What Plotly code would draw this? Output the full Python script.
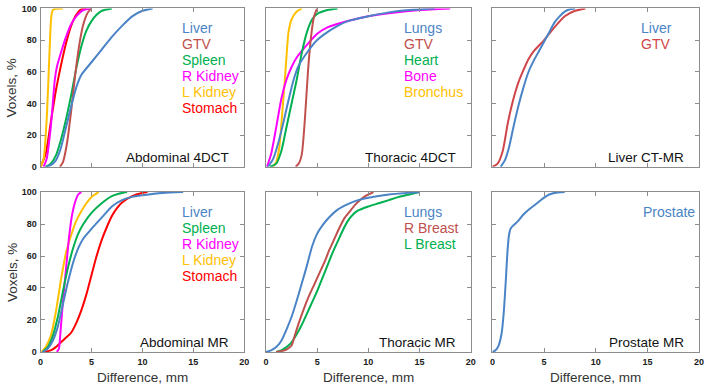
import plotly.graph_objects as go

W, H = 709, 392

# ---------------- data ----------------
# Abdominal 4DCT
a4_liver_x = [0.5, 1, 1.5, 2, 2.5, 3, 3.5, 4, 5, 6, 7, 8, 9, 10, 11]
a4_liver_y = [0, 1, 4, 12, 25, 38, 50, 58, 66, 74, 82, 89, 95, 98.5, 100]
a4_gtv_x = [1.9, 2.2, 2.6, 3.0, 3.4, 3.8, 4.2, 4.6, 5.0]
a4_gtv_y = [0, 3, 15, 35, 58, 77, 90, 97, 100]
a4_spleen_x = [0.5, 1, 1.5, 2, 2.5, 3, 3.5, 4, 4.5, 5, 5.5, 6, 7]
a4_spleen_y = [0, 2, 7, 17, 30, 45, 62, 76, 86, 92, 96, 98.5, 100]
a4_rkid_x = [0.3, 0.6, 1.0, 1.4, 1.6, 2.0, 2.5, 3.0, 3.5, 4.2, 5.0]
a4_rkid_y = [0, 5, 25, 55, 63, 72, 82, 90, 95, 99, 100]
a4_lkid_x = [0.0, 0.3, 0.6, 0.8, 1.0, 1.1, 1.3, 2.2]
a4_lkid_y = [0, 5, 30, 60, 90, 97, 99.5, 100]
a4_stom_x = [0.0, 0.5, 1.0, 1.5, 2.0, 2.5, 3.0, 3.5, 4.0, 4.5]
a4_stom_y = [0, 8, 28, 48, 64, 78, 89, 96, 99.5, 100]

# Thoracic 4DCT
t4_lungs_x = [0.2, 0.7, 1.2, 1.7, 2.2, 2.7, 3.2, 4, 5, 6, 7, 8, 10, 12, 14, 16.5]
t4_lungs_y = [0, 5, 15, 28, 42, 55, 64, 72, 80, 85, 89, 92, 95, 97.5, 99, 100]
t4_gtv_x = [2.9, 3.2, 3.5, 3.8, 4.1, 4.4, 4.7, 5.0]
t4_gtv_y = [0, 2, 8, 30, 60, 82, 95, 100]
t4_heart_x = [0.4, 1, 1.5, 2, 2.5, 3, 3.5, 4, 4.5, 5, 6, 7]
t4_heart_y = [0, 2, 10, 25, 40, 55, 72, 85, 93, 96.5, 99, 100]
t4_bone_x = [0.1, 0.5, 1, 1.5, 2, 2.5, 3, 4, 5, 6, 8, 10, 12, 15, 18]
t4_bone_y = [0, 8, 25, 43, 55, 63, 69, 77, 84, 88, 92, 95, 97, 99, 100]
t4_bron_x = [0.7, 1.0, 1.3, 1.6, 1.9, 2.2, 2.5, 3.0, 3.5]
t4_bron_y = [0, 3, 12, 35, 60, 85, 93, 98, 100]

# Liver CT-MR
lc_liver_x = [0.8, 1.2, 1.6, 2, 2.5, 3, 3.5, 4, 4.5, 5, 5.5, 6, 6.5, 7, 7.5, 8]
lc_liver_y = [0, 4, 12, 24, 38, 50, 60, 67, 73, 79, 85, 91, 95, 98, 99.5, 100]
lc_gtv_x = [0, 0.5, 1, 1.5, 2, 2.5, 3, 3.5, 4, 5, 6, 7, 8, 9]
lc_gtv_y = [0, 2, 10, 28, 42, 53, 61, 68, 73, 80, 88, 95, 98.5, 100]

# Abdominal MR
am_liver_x = [0.2, 0.7, 1.2, 1.7, 2.2, 2.7, 3.2, 3.7, 4.2, 5, 6, 7, 8, 9, 10, 12, 14]
am_liver_y = [0, 2, 7, 16, 30, 44, 56, 65, 71, 77, 84, 91, 95, 97, 98, 99.5, 100]
am_spleen_x = [0.2, 0.7, 1.2, 1.7, 2.2, 2.7, 3.2, 3.7, 4.2, 5, 6, 7, 8, 8.5]
am_spleen_y = [0, 3, 10, 22, 38, 53, 65, 74, 80, 87, 93, 97.5, 99.5, 100]
am_rkid_x = [1.6, 1.8, 1.95, 2.2, 2.5, 2.8, 3.1, 3.4, 3.7, 4.0]
am_rkid_y = [0, 2, 12, 32, 52, 72, 86, 94, 98.5, 100]
am_lkid_x = [0.1, 0.5, 1, 1.5, 2, 2.5, 3, 3.5, 4, 4.5, 5, 5.7]
am_lkid_y = [0, 3, 10, 25, 45, 62, 73, 82, 88, 93, 97, 100]
am_stom_x = [0.3, 1, 1.5, 2, 2.5, 3, 3.5, 4, 4.5, 5, 5.5, 6, 6.5, 7, 7.5, 8, 9, 10, 10.5]
am_stom_y = [0, 1, 3, 6, 9, 12, 18, 26, 36, 48, 60, 70, 78, 85, 90, 93.5, 97.5, 99.5, 100]

# Thoracic MR
tm_lungs_x = [0, 0.5, 1, 1.5, 2, 2.5, 3, 3.5, 4, 4.5, 5, 5.5, 6, 7, 8, 9, 10, 12, 15]
tm_lungs_y = [0, 1, 3, 7, 14, 22, 32, 43, 54, 66, 74, 79, 83, 89, 92.5, 95, 96.5, 98.5, 100]
tm_rbr_x = [1, 1.5, 2, 2.5, 2.8, 3.2, 3.7, 4.2, 4.7, 5.2, 5.7, 6.2, 6.7, 7.2, 7.7, 8.2, 8.7, 9.2, 9.7, 10.5]
tm_rbr_y = [0, 0.5, 1.5, 4, 10, 18, 27, 35, 42, 49, 56, 64, 71, 78, 84, 88, 92, 95, 97.5, 100]
tm_lbr_x = [1, 1.5, 2, 2.5, 3, 3.5, 4, 4.5, 5, 5.5, 6, 6.5, 7, 7.5, 8, 8.5, 9, 10, 11, 12, 13, 14, 15]
tm_lbr_y = [0, 1, 3, 6, 11, 17, 24, 31, 38, 46, 54, 62, 69, 76, 82, 86, 88.5, 91, 93, 95, 97, 98.5, 100]

# Prostate MR
pm_pros_x = [0, 0.3, 0.6, 0.9, 1.1, 1.3, 1.45, 1.6, 1.75, 2, 2.5, 3, 3.5, 4, 4.5, 5, 5.5, 6, 7]
pm_pros_y = [0, 1, 4, 12, 25, 45, 62, 73, 77, 79, 82, 86, 89, 91.5, 94, 96.5, 98.5, 99.5, 100]

panel_titles = ["Abdominal 4DCT", "Thoracic 4DCT", "Liver CT-MR",
                "Abdominal MR", "Thoracic MR", "Prostate MR"]
x_ticks = [0, 5, 10, 15, 20]
y_ticks = [0, 20, 40, 60, 80, 100]

BLUE = "#4a84c6"
BROWN = "#c0504d"
GREEN = "#00b050"
MAGENTA = "#ff00ff"
ORANGE = "#ffc000"
RED = "#ff0000"
RED2 = "#d0454a"

panels = [
    [("Liver", a4_liver_x, a4_liver_y, BLUE), ("GTV", a4_gtv_x, a4_gtv_y, BROWN),
     ("Spleen", a4_spleen_x, a4_spleen_y, GREEN), ("R Kidney", a4_rkid_x, a4_rkid_y, MAGENTA),
     ("L Kidney", a4_lkid_x, a4_lkid_y, ORANGE), ("Stomach", a4_stom_x, a4_stom_y, RED)],
    [("Lungs", t4_lungs_x, t4_lungs_y, BLUE), ("GTV", t4_gtv_x, t4_gtv_y, BROWN),
     ("Heart", t4_heart_x, t4_heart_y, GREEN), ("Bone", t4_bone_x, t4_bone_y, MAGENTA),
     ("Bronchus", t4_bron_x, t4_bron_y, ORANGE)],
    [("Liver", lc_liver_x, lc_liver_y, BLUE), ("GTV", lc_gtv_x, lc_gtv_y, RED2)],
    [("Liver", am_liver_x, am_liver_y, BLUE), ("Spleen", am_spleen_x, am_spleen_y, GREEN),
     ("R Kidney", am_rkid_x, am_rkid_y, MAGENTA), ("L Kidney", am_lkid_x, am_lkid_y, ORANGE),
     ("Stomach", am_stom_x, am_stom_y, RED)],
    [("Lungs", tm_lungs_x, tm_lungs_y, BLUE), ("R Breast", tm_rbr_x, tm_rbr_y, BROWN),
     ("L Breast", tm_lbr_x, tm_lbr_y, GREEN)],
    [("Prostate", pm_pros_x, pm_pros_y, BLUE)],
]

# ---------------- layout geometry (pixels) ----------------
col_px = [(38, 244), (266, 473), (495, 704)]
row_px = [(3.5, 166), (192, 356)]
legend_dx = [141, 138, 148, 141, 138, 150]

FONT = "Liberation Sans, Arial, sans-serif"

def px2x(p):
    return p / W

def px2y(p):
    return 1 - p / H

fig = go.Figure()
layout = dict(width=W, height=H, margin=dict(l=0, r=0, t=0, b=0),
              paper_bgcolor="white", plot_bgcolor="white", showlegend=False,
              font=dict(family=FONT))
annotations = []

for i, series in enumerate(panels):
    r, c = divmod(i, 3)
    n = i + 1
    xa = "xaxis" if n == 1 else f"xaxis{n}"
    ya = "yaxis" if n == 1 else f"yaxis{n}"
    xr = "x" if n == 1 else f"x{n}"
    yr = "y" if n == 1 else f"y{n}"
    x0, x1 = col_px[c]
    y0, y1 = row_px[r]
    common = dict(showline=True, linecolor="#8c8c8c", linewidth=1, mirror="ticks",
                  ticks="inside", ticklen=4, tickcolor="#8c8c8c", showgrid=False,
                  zeroline=False,
                  tickfont=dict(family=FONT, size=9, color="#1a1a1a", weight="bold"))
    layout[xa] = dict(common, domain=[px2x(x0), px2x(x1)], range=[0, 20],
                      tickvals=x_ticks, showticklabels=(r == 1), anchor=yr, ticklabelstandoff=1)
    layout[ya] = dict(common, domain=[px2y(y1), px2y(y0)], range=[0, 100],
                      tickvals=y_ticks, showticklabels=(c == 0), anchor=xr, ticklabelstandoff=1)
    for name, xs, ys, col in reversed(series):
        fig.add_trace(go.Scatter(x=xs, y=ys, mode="lines", xaxis=xr, yaxis=yr,
                                 line=dict(color=col, width=2, shape="spline", smoothing=0.6),
                                 name=name, hoverinfo="skip"))
    for k, (name, xs, ys, col) in enumerate(series):
        annotations.append(dict(x=px2x(x0 + legend_dx[i]), y=px2y(y0 + 20.5 + 16.4 * k),
                                xref="paper", yref="paper", text=name, showarrow=False,
                                xanchor="left", yanchor="middle",
                                font=dict(family=FONT, size=14, color=col)))
    annotations.append(dict(x=px2x(x1 - 13), y=px2y(y1 - 10), xref="paper", yref="paper",
                            text=panel_titles[i], showarrow=False, xanchor="right",
                            yanchor="middle", font=dict(family=FONT, size=13.5, color="#111111")))
    if r == 1:
        annotations.append(dict(x=px2x((x0 + x1) / 2), y=px2y(382), xref="paper", yref="paper",
                                text="Difference, mm", showarrow=False, xanchor="center",
                                yanchor="middle", font=dict(family=FONT, size=13.5, color="#333333")))
    if c == 0:
        annotations.append(dict(x=px2x(9), y=px2y((y0 + y1) / 2), xref="paper", yref="paper",
                                text="Voxels, %", showarrow=False, textangle=-90,
                                xanchor="center", yanchor="middle",
                                font=dict(family=FONT, size=13.5, color="#333333")))

layout["annotations"] = annotations
fig.update_layout(**layout)
fig.write_html("out.html", config={"displayModeBar": False},
               post_script="document.body.style.margin='0px';document.body.style.overflow='hidden';")
